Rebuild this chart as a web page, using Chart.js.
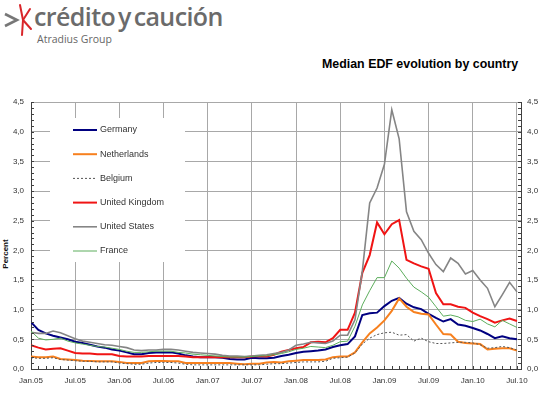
<!DOCTYPE html>
<html>
<head>
<meta charset="utf-8">
<script src="https://cdn.jsdelivr.net/npm/chart.js@4.4.0/dist/chart.umd.min.js"></script>
<style>
  body { margin: 0; background: #fff; width: 539px; height: 393px; overflow: hidden; position: relative; font-family: Arial, "Liberation Sans", sans-serif; }
  #chart { position: absolute; left: 0; top: 0; }
  #logo-icon { position: absolute; left: 0; top: 0; }
  #brand { position: absolute; left: 34px; top: -1px; font-family: "Open Sans", sans-serif; font-weight: 600; font-size: 25px; color: #6b6b6b; letter-spacing: -0.6px; word-spacing: -3px; white-space: nowrap; }
  #group { position: absolute; left: 37px; top: 32px; font-family: "Open Sans", sans-serif; font-size: 10.5px; color: #666; white-space: nowrap; }
  #title { position: absolute; left: 322px; top: 57px; font: bold 12.4px Arial, "Liberation Sans", sans-serif; line-height: 14px; color: #000; white-space: nowrap; }
  #ylab { position: absolute; left: 5px; top: 254px; transform: translate(-50%, -50%) rotate(-90deg); font: bold 8px Arial, "Liberation Sans", sans-serif; color: #111; white-space: nowrap; }
</style>
</head>
<body>
<svg id="logo-icon" width="34" height="40">
  <polyline points="5,14 17,20 5,26" fill="none" stroke="#777" stroke-width="2.6"/>
  <g stroke="#d9252a" stroke-width="2" stroke-linecap="round">
    <line x1="23" y1="20" x2="20" y2="5"/>
    <line x1="23" y1="20" x2="30" y2="9"/>
    <line x1="23" y1="20" x2="31" y2="29"/>
    <line x1="23" y1="20" x2="22" y2="35"/>
  </g>
</svg>
<div id="brand">crédito y caución</div>
<div id="group">Atradius Group</div>
<div id="title">Median EDF evolution by country</div>
<div id="ylab">Percent</div>
<canvas id="chart" width="539" height="393"></canvas>
<script>
// tick labels every 6 months, starting Jan.05
const tickLabels = ['Jan.05', 'Jul.05', 'Jan.06', 'Jul.06', 'Jan.07', 'Jul.07',
                    'Jan.08', 'Jul.08', 'Jan.09', 'Jul.09', 'Jan.10', 'Jul.10'];

// monthly medians, Jan.05 .. Jul.10
const germany = [0.79, 0.66, 0.60, 0.56, 0.53, 0.50, 0.46, 0.44, 0.41, 0.38, 0.36, 0.33, 0.31, 0.28, 0.25, 0.25, 0.27,
  0.28, 0.28, 0.28, 0.26, 0.23, 0.21, 0.20, 0.20, 0.20, 0.19, 0.17, 0.16, 0.16, 0.19, 0.18, 0.18, 0.19, 0.22,
  0.24, 0.27, 0.29, 0.30, 0.31, 0.33, 0.37, 0.40, 0.42, 0.55, 0.91, 0.94, 0.95, 1.06, 1.15, 1.20, 1.10, 1.04,
  1.01, 0.93, 0.86, 0.80, 0.84, 0.75, 0.73, 0.69, 0.65, 0.59, 0.52, 0.55, 0.52, 0.50];
const netherlands = [0.21, 0.20, 0.20, 0.21, 0.17, 0.16, 0.15, 0.14, 0.135, 0.13, 0.13, 0.13, 0.12, 0.10, 0.10, 0.10, 0.13,
  0.135, 0.135, 0.13, 0.13, 0.10, 0.10, 0.10, 0.10, 0.10, 0.10, 0.10, 0.09, 0.08, 0.09, 0.09, 0.11, 0.12, 0.11,
  0.13, 0.14, 0.15, 0.15, 0.15, 0.16, 0.20, 0.21, 0.21, 0.28, 0.45, 0.60, 0.70, 0.82, 0.98, 1.19, 1.05, 0.96,
  0.93, 0.92, 0.75, 0.59, 0.58, 0.46, 0.44, 0.43, 0.42, 0.33, 0.34, 0.35, 0.35, 0.31];
const belgium = [0.19, 0.18, 0.18, 0.19, 0.16, 0.15, 0.14, 0.13, 0.13, 0.12, 0.12, 0.12, 0.10, 0.09, 0.08, 0.08, 0.10,
  0.11, 0.11, 0.11, 0.10, 0.08, 0.07, 0.07, 0.07, 0.07, 0.07, 0.07, 0.07, 0.07, 0.07, 0.07, 0.08, 0.09, 0.09,
  0.10, 0.11, 0.12, 0.12, 0.12, 0.13, 0.18, 0.19, 0.20, 0.27, 0.42, 0.52, 0.58, 0.61, 0.62, 0.57, 0.58, 0.47,
  0.52, 0.46, 0.43, 0.43, 0.44, 0.45, 0.45, 0.44, 0.41, 0.35, 0.36, 0.38, 0.36, 0.32];
const unitedKingdom = [0.40, 0.36, 0.33, 0.34, 0.35, 0.31, 0.27, 0.26, 0.26, 0.25, 0.25, 0.25, 0.22, 0.21, 0.21, 0.21, 0.22,
  0.22, 0.22, 0.22, 0.22, 0.21, 0.20, 0.20, 0.20, 0.20, 0.20, 0.20, 0.20, 0.20, 0.21, 0.22, 0.21, 0.24, 0.29,
  0.32, 0.35, 0.37, 0.45, 0.46, 0.45, 0.52, 0.66, 0.66, 0.95, 1.62, 1.92, 2.47, 2.27, 2.44, 2.51, 1.84, 1.78,
  1.73, 1.69, 1.28, 1.09, 1.09, 1.05, 1.03, 0.95, 0.89, 0.84, 0.78, 0.82, 0.85, 0.81];
const unitedStates = [0.62, 0.60, 0.60, 0.64, 0.61, 0.56, 0.51, 0.47, 0.45, 0.43, 0.41, 0.40, 0.38, 0.36, 0.32, 0.31, 0.32,
  0.32, 0.33, 0.33, 0.32, 0.30, 0.28, 0.27, 0.26, 0.25, 0.23, 0.22, 0.22, 0.21, 0.22, 0.23, 0.24, 0.26, 0.28,
  0.32, 0.40, 0.42, 0.45, 0.44, 0.43, 0.47, 0.57, 0.57, 0.83, 1.65, 2.80, 3.05, 3.45, 4.37, 3.88, 2.65, 2.32,
  2.18, 1.95, 1.76, 1.64, 1.87, 1.78, 1.60, 1.66, 1.50, 1.36, 1.05, 1.25, 1.46, 1.30];
const france = [0.64, 0.52, 0.49, 0.50, 0.52, 0.47, 0.44, 0.42, 0.40, 0.38, 0.37, 0.35, 0.33, 0.30, 0.28, 0.28, 0.29,
  0.30, 0.30, 0.30, 0.28, 0.27, 0.25, 0.24, 0.23, 0.22, 0.21, 0.20, 0.20, 0.20, 0.21, 0.22, 0.22, 0.24, 0.26,
  0.29, 0.33, 0.35, 0.38, 0.37, 0.36, 0.40, 0.46, 0.47, 0.72, 1.08, 1.32, 1.54, 1.54, 1.82, 1.70, 1.53, 1.38,
  1.30, 1.21, 1.05, 0.89, 0.91, 0.88, 0.82, 0.80, 0.84, 0.76, 0.71, 0.82, 0.76, 0.70];

const series = [
  { label: 'Germany', data: germany, color: '#000080', width: 2 },
  { label: 'Netherlands', data: netherlands, color: '#f7801e', width: 2 },
  { label: 'Belgium', data: belgium, color: '#555555', width: 1, dash: [2, 2] },
  { label: 'United Kingdom', data: unitedKingdom, color: '#f01414', width: 2 },
  { label: 'United States', data: unitedStates, color: '#858585', width: 1.6 },
  { label: 'France', data: france, color: '#5cad5c', width: 1 }
];

const tickFont = { family: 'Arial, "Liberation Sans", sans-serif', size: 8 };
const gridColor = '#a8a8a8';
const axisColor = '#404040';

// white box with legend entries inside the plot
const boxLegend = {
  id: 'boxLegend',
  beforeDatasetsDraw(chart) {
    const ctx = chart.ctx;
    ctx.save();
    ctx.fillStyle = '#fff';
    ctx.fillRect(50, 118, 135, 144);
    ctx.font = '9px Arial, "Liberation Sans", sans-serif';
    ctx.textBaseline = 'middle';
    chart.data.datasets.forEach((ds, i) => {
      const yy = 130 + i * 24.2;
      ctx.strokeStyle = ds.borderColor;
      ctx.lineWidth = ds.borderWidth;
      ctx.setLineDash(ds.borderDash || []);
      ctx.beginPath();
      ctx.moveTo(73, yy);
      ctx.lineTo(97, yy);
      ctx.stroke();
      ctx.setLineDash([]);
      ctx.fillStyle = '#333';
      ctx.fillText(ds.label, 100, yy);
    });
    ctx.restore();
  }
};

// small inside tick marks: every 0.1 on the value axes, every month on the time axis
const minorTicks = {
  id: 'minorTicks',
  afterDraw(chart) {
    const ctx = chart.ctx;
    const { left, right, bottom } = chart.chartArea;
    const y = chart.scales.y, x = chart.scales.x;
    ctx.save();
    ctx.strokeStyle = axisColor;
    ctx.lineWidth = 1;
    ctx.beginPath();
    for (let k = 0; k <= 45; k++) {
      const py = Math.round(y.getPixelForValue(k / 10)) + 0.5;
      ctx.moveTo(left, py); ctx.lineTo(left + 3, py);
      ctx.moveTo(right, py); ctx.lineTo(right - 3, py);
    }
    for (let m = 0; m < germany.length; m++) {
      const px = Math.round(x.getPixelForValue(m)) + 0.5;
      ctx.moveTo(px, bottom); ctx.lineTo(px, bottom - 3);
    }
    ctx.stroke();
    ctx.restore();
  }
};

const valueLabel = v => v.toFixed(1).replace('.', ',');

new Chart(document.getElementById('chart'), {
  type: 'line',
  data: {
    datasets: series.map((s, i) => ({
      label: s.label,
      data: s.data.map((v, m) => ({ x: m, y: v })),
      borderColor: s.color,
      borderWidth: s.width,
      borderDash: s.dash || [],
      pointRadius: 0,
      tension: 0,
      fill: false,
      order: series.length - i
    }))
  },
  options: {
    responsive: false,
    animation: false,
    layout: { padding: { top: 102, left: 0, right: 0, bottom: 0 } },
    plugins: { legend: { display: false }, tooltip: { enabled: false } },
    scales: {
      x: {
        type: 'linear',
        min: 0,
        max: 66.55,
        afterBuildTicks: scale => { scale.ticks = tickLabels.map((_, k) => ({ value: k * 6 })); },
        afterFit: scale => { scale.height = 24; },
        ticks: {
          autoSkip: false, maxRotation: 0, padding: 7,
          font: tickFont, color: '#333',
          callback: (v, i) => tickLabels[i]
        },
        grid: { color: gridColor, drawTicks: false },
        border: { color: axisColor }
      },
      y: {
        position: 'left',
        min: 0,
        max: 4.5,
        afterFit: scale => { scale.width = 31; },
        ticks: { stepSize: 0.5, padding: 7, font: tickFont, color: '#333', callback: valueLabel },
        grid: { color: gridColor, drawTicks: false },
        border: { color: axisColor }
      },
      y2: {
        position: 'right',
        min: 0,
        max: 4.5,
        afterFit: scale => { scale.width = 18; },
        ticks: { stepSize: 0.5, padding: 6, font: tickFont, color: '#333', callback: valueLabel },
        grid: { display: false, drawTicks: false },
        border: { color: axisColor }
      }
    }
  },
  plugins: [boxLegend, minorTicks]
});
</script>
</body>
</html>
